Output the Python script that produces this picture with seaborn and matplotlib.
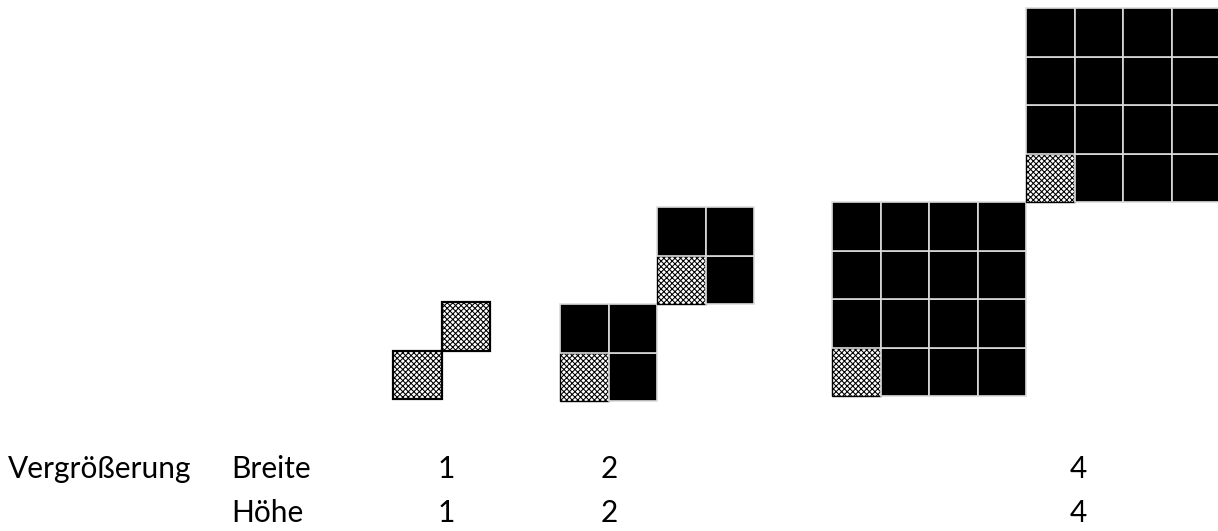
import matplotlib
matplotlib.use("Agg")
import matplotlib.pyplot as plt
from matplotlib.patches import Rectangle
import seaborn as sns

# ---- data ----
factors = [1, 2, 4]                    # magnification per group
width_labels = ["1", "2", "4"]         # Breite
height_labels = ["1", "2", "4"]        # Höhe
row_titles = ["Breite", "Höhe"]
main_title = "Vergrößerung"

# ---- layout (pixel coordinates, y down) ----
W, H = 1218, 531
unit = 48.5
group_origin_x = [393, 560, 832]
group_origin_y = [399, 401, 396]
label_x = [446, 609, 1078]

sns.set_theme(style="white")
plt.rcParams["font.family"] = ["Lato", "DejaVu Sans"]
plt.rcParams["hatch.linewidth"] = 0.75

fig = plt.figure(figsize=(W / 100, H / 100), dpi=100)
ax = fig.add_axes([0, 0, 1, 1])
ax.set_xlim(0, W)
ax.set_ylim(H, 0)
ax.axis("off")


def draw_block(x0, y0, k):
    """k x k block with bottom-left (original) pixel hatched, x0,y0 = bottom-left corner."""
    for i in range(k):
        for j in range(k):
            x = x0 + i * unit
            y = y0 - (j + 1) * unit
            if i == 0 and j == 0:
                ax.add_patch(Rectangle((x, y), unit, unit, facecolor="white",
                                       edgecolor="black", hatch="xxxxxx",
                                       linewidth=1.6 if k == 1 else 1.0))
            else:
                ax.add_patch(Rectangle((x, y), unit, unit, facecolor="black",
                                       edgecolor="#dcdcdc", linewidth=1.2))


for k, gx, gy in zip(factors, group_origin_x, group_origin_y):
    draw_block(gx, gy, k)
    draw_block(gx + k * unit, gy - k * unit, k)

fs = 21.5
ax.text(8, 478, main_title, fontsize=fs, ha="left", va="baseline", color="black")
ax.text(231, 478, row_titles[0], fontsize=fs, ha="left", va="baseline", color="black")
ax.text(231, 522, row_titles[1], fontsize=fs, ha="left", va="baseline", color="black")
for x, wl, hl in zip(label_x, width_labels, height_labels):
    ax.text(x, 478, wl, fontsize=fs, ha="center", va="baseline", color="black")
    ax.text(x, 522, hl, fontsize=fs, ha="center", va="baseline", color="black")

fig.savefig("out.png", dpi=100, facecolor="white")
